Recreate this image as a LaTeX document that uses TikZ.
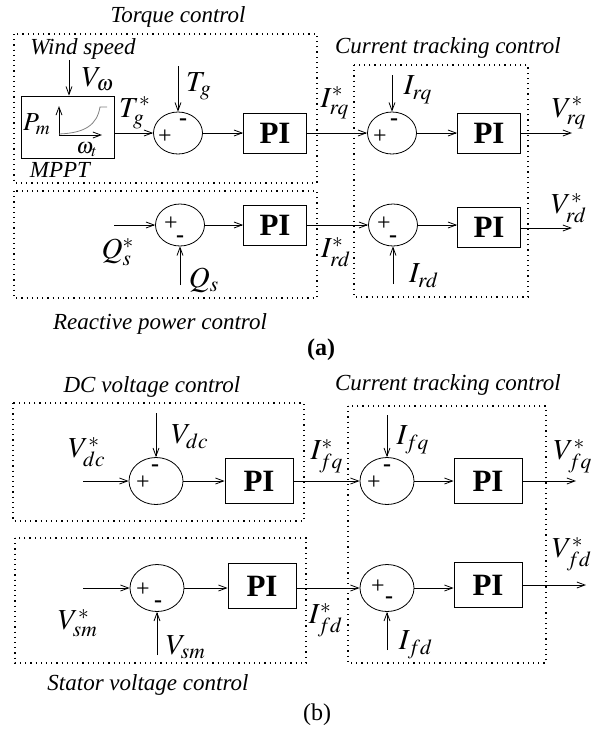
\documentclass[tikz,border=0pt]{standalone}
\usepackage{mathptmx}
\usepackage[no-math]{fontspec}
\setmainfont{Liberation Serif}
\usetikzlibrary{shapes.geometric,arrows.meta}

\tikzset{
    ttl/.style={font=\fontsize{11.5}{13}\selectfont\itshape},
    lbl/.style={font=\fontsize{14.5}{16}\selectfont, inner sep=0pt},
    sgn/.style={font=\fontsize{12}{14}\selectfont, inner sep=0pt},
    sum/.style={draw, ellipse, minimum width=24.5pt, minimum height=21pt, inner sep=0pt},
    bigsum/.style={sum, minimum width=27pt, minimum height=23.5pt},
    piblock/.style={draw, minimum width=31.5pt, minimum height=20pt, inner sep=0pt,
        font=\fontsize{15.5}{17}\selectfont\bfseries},
    bigpi/.style={piblock, minimum width=34pt, minimum height=22.5pt},
    groupbox/.style={dotted, line width=0.6pt},
    sig/.style={-{Straight Barb[length=4pt,width=3pt]}, line width=0.4pt},
}

\begin{document}
\begin{tikzpicture}[x=0.5pt,y=-0.5pt]
    \useasboundingbox (0,0) rectangle (595,729);

    % (a) torque control
    \node[ttl] (torquettl) at (178,17) {Torque control};
    \draw[groupbox] (14,34) rectangle (317,183);
    \node[ttl] (windttl) at (83,49) {Wind speed};
    \node[draw, minimum width=46.5pt, minimum height=31pt, inner sep=0pt] (mppt) at (67.5,127) {};
    \draw[sig] (59,135) -- (59,106);
    \draw[sig] (59,135) -- (102,135);
    \draw[gray] (59,134) .. controls (85,133) and (97,125) .. (100,107) -- (107,107);
    \node[font=\fontsize{13}{15}\selectfont, inner sep=0pt] (pm) at (37,124) {$P_m$};
    \node[font=\fontsize{11}{13}\selectfont, inner sep=0pt] (wt) at (87,150) {$\omega_t$};
    \node[ttl] (mpptttl) at (60,170) {MPPT};
    \coordinate (windin) at (69,60);
    \draw[sig] (windin) -- (windin |- mppt.north);
    \node[lbl] (vw) at (98,79) {$V_\omega$};

    \node[sum] (sum1) at (178,133) {};
    \node[sgn] (sum1p) at (165,137) {+};
    \node[sgn] (sum1m) at (183,122) {\textbf{-}};
    \coordinate (tgin) at (178,66);
    \draw[sig] (tgin) -- (sum1.north);
    \node[lbl] (tg) at (199,86) {$T_g$};
    \draw[sig] (mppt.east |- sum1) -- (sum1.west);
    \node[lbl] (tgref) at (135,113) {$T_g^*$};
    \node[piblock] (pi1) at (275,133) {PI};
    \draw[sig] (sum1.east) -- (pi1.west);

    % (a) current tracking control
    \node[ttl] (ctrlttl) at (448,48) {Current tracking control};
    \draw[groupbox] (354,65) rectangle (528,297);
    \node[sum] (sum2) at (392,133) {};
    \node[sgn] (sum2p) at (380,137) {+};
    \node[sgn] (sum2m) at (394,122) {\textbf{-}};
    \draw[sig] (pi1.east) -- (sum2.west);
    \node[lbl] (irqref) at (335,103) {$I^*_{rq}$};
    \coordinate (irqin) at (392,75);
    \draw[sig] (irqin) -- (sum2.north);
    \node[lbl] (irq) at (418,90) {$I_{rq}$};
    \node[piblock] (pi2) at (489,133) {PI};
    \draw[sig] (sum2.east) -- (pi2.west);
    \coordinate (vrqout) at (572,133);
    \draw[sig] (pi2.east) -- (vrqout);
    \node[lbl] (vrq) at (569,113) {$V^*_{rq}$};

    % (a) reactive power control
    \draw[groupbox] (14,191) rectangle (317,298);
    \node[sum] (sum3) at (180,225) {};
    \node[sgn] (sum3p) at (171,224) {+};
    \node[sgn] (sum3m) at (180,239) {\textbf{-}};
    \coordinate (qsrefin) at (114,225);
    \draw[sig] (qsrefin) -- (sum3.west);
    \node[lbl] (qsref) at (118,252) {$Q_s^*$};
    \coordinate (qsin) at (180,285);
    \draw[sig] (qsin) -- (sum3.south);
    \node[lbl] (qs) at (204,280) {$Q_s$};
    \node[piblock] (pi3) at (275,225) {PI};
    \draw[sig] (sum3.east) -- (pi3.west);
    \node[sum] (sum4) at (393,225) {};
    \node[sgn] (sum4p) at (384,224) {+};
    \node[sgn] (sum4m) at (393,239) {\textbf{-}};
    \draw[sig] (pi3.east) -- (sum4.west);
    \node[lbl] (irdref) at (336,252) {$I^*_{rd}$};
    \coordinate (irdin) at (393,284);
    \draw[sig] (irdin) -- (sum4.south);
    \node[lbl] (ird) at (424,276) {$I_{rd}$};
    \node[piblock] (pi4) at (489,227) {PI};
    \draw[sig] (sum4.east) -- (pi4.west |- sum4);
    \coordinate (vrdout) at (572,228);
    \draw[sig] (pi4.east |- vrdout) -- (vrdout);
    \node[lbl] (vrd) at (569,208) {$V^*_{rd}$};
    \node[ttl] (reacttl) at (160,324) {Reactive power control};
    \node[font=\fontsize{12}{14}\selectfont\bfseries] (capa) at (321,350) {(a)};

    % (b) DC voltage control
    \node[ttl] (dcttl) at (152,387) {DC voltage control};
    \draw[groupbox] (13,403) rectangle (304,521);
    \node[bigsum] (sum5) at (156,481) {};
    \node[sgn] (sum5p) at (143,483) {+};
    \node[sgn] (sum5m) at (155,468) {\textbf{-}};
    \coordinate (vdcrefin) at (83,481);
    \draw[sig] (vdcrefin) -- (sum5.west);
    \node[lbl] (vdcref) at (87,452) {$V^*_{dc}$};
    \coordinate (vdcin) at (156,413);
    \draw[sig] (vdcin) -- (sum5.north);
    \node[lbl] (vdc) at (190,437) {$V_{dc}$};
    \node[bigpi] (pi5) at (259,481) {PI};
    \draw[sig] (sum5.east) -- (pi5.west);

    % (b) current tracking control
    \node[ttl] (ctrlttl2) at (448,385) {Current tracking control};
    \draw[groupbox] (348,406) rectangle (546,663);
    \node[bigsum] (sum6) at (387,481) {};
    \node[sgn] (sum6p) at (374,483) {+};
    \node[sgn] (sum6m) at (387,468) {\textbf{-}};
    \draw[sig] (pi5.east) -- (sum6.west);
    \node[lbl] (ifqref) at (327,456) {$I^*_{fq}$};
    \coordinate (ifqin) at (387,415);
    \draw[sig] (ifqin) -- (sum6.north);
    \node[lbl] (ifq) at (413,440) {$I_{fq}$};
    \node[bigpi] (pi6) at (488,481) {PI};
    \draw[sig] (sum6.east) -- (pi6.west);
    \coordinate (vfqout) at (576,481);
    \draw[sig] (pi6.east) -- (vfqout);
    \node[lbl] (vfq) at (573,456) {$V^*_{fq}$};

    % (b) stator voltage control
    \draw[groupbox] (15,538) rectangle (306,663);
    \node[bigsum] (sum7) at (157,588) {};
    \node[sgn] (sum7p) at (143,590) {+};
    \node[sgn] (sum7m) at (158,604) {\textbf{-}};
    \coordinate (vsmrefin) at (83,588);
    \draw[sig] (vsmrefin) -- (sum7.west);
    \node[lbl] (vsmref) at (78,623) {$V^*_{sm}$};
    \coordinate (vsmin) at (157,655);
    \draw[sig] (vsmin) -- (sum7.south);
    \node[lbl] (vsm) at (186,647) {$V_{sm}$};
    \node[bigpi] (pi7) at (262,586) {PI};
    \draw[sig] (sum7.east) -- (pi7.west |- sum7);
    \node[bigsum] (sum8) at (387,588) {};
    \node[sgn] (sum8p) at (378,587) {+};
    \node[sgn] (sum8m) at (389,600) {\textbf{-}};
    \draw[sig] (pi7.east |- sum8) -- (sum8.west);
    \node[lbl] (ifdref) at (326,620) {$I^*_{fd}$};
    \coordinate (ifdin) at (387,650);
    \draw[sig] (ifdin) -- (sum8.south);
    \node[lbl] (ifd) at (416,645) {$I_{fd}$};
    \node[bigpi] (pi8) at (488,585) {PI};
    \draw[sig] (sum8.east) -- (pi8.west |- sum8);
    \coordinate (vfdout) at (586,585);
    \draw[sig] (pi8.east) -- (vfdout);
    \node[lbl] (vfd) at (572,554) {$V^*_{fd}$};
    \node[ttl] (statttl) at (148,685) {Stator voltage control};
    \node[font=\fontsize{12}{14}\selectfont] (capb) at (317,715) {(b)};
\end{tikzpicture}
\end{document}
